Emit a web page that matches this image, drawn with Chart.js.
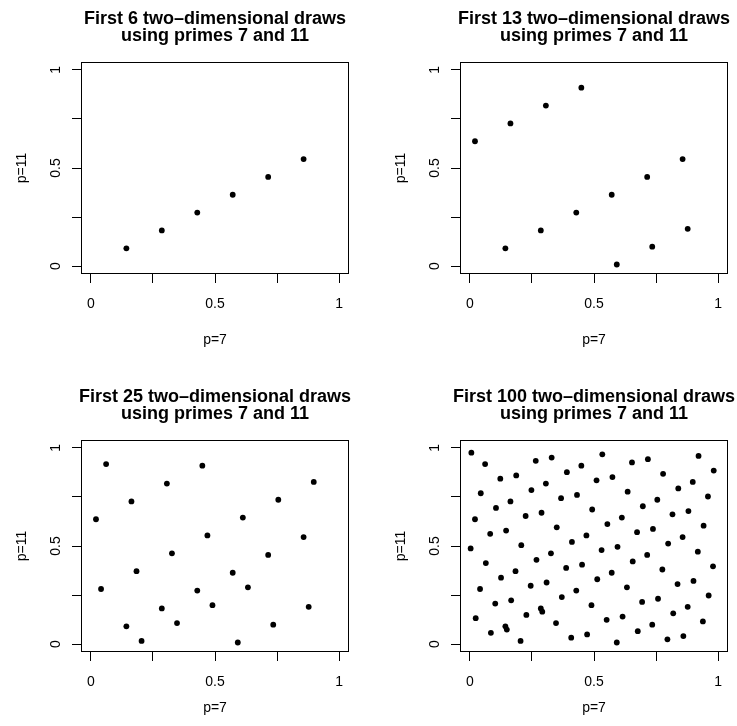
<!DOCTYPE html>
<html><head><meta charset="utf-8">
<script src="https://cdn.jsdelivr.net/npm/chart.js@4/dist/chart.umd.min.js"></script>
<style>
html,body{margin:0;padding:0;background:#fff;overflow:hidden;width:737px;height:726px;}
#wrap{position:relative;width:737px;height:726px;overflow:hidden;background:#fff;}
canvas{position:absolute;}
</style></head><body><div id="wrap"></div>
<script>
// Draws (p=7 coordinate and p=11 coordinate)
const drawsP7 = [
0.1429,0.2857,0.4286,0.5714,0.7143,0.8571,
0.0204,0.1633,0.3061,0.4490,0.5918,0.7347,0.8776,
0.0408,0.1837,0.3265,0.4694,0.6122,0.7551,0.8980,
0.0612,0.2041,0.3469,0.4898,0.6327,0.7755,0.9184,
0.0816,0.2245,0.3673,0.5102,0.6531,0.7959,0.9388,
0.1020,0.2449,0.3878,0.5306,0.6735,0.8163,0.9592,
0.1224,0.2653,0.4082,0.5510,0.6939,0.8367,0.9796,
0.0029,0.1458,0.2886,0.4315,0.5743,0.7172,0.8601,
0.0233,0.1662,0.3090,0.4519,0.5948,0.7376,0.8805,
0.0437,0.1866,0.3294,0.4723,0.6152,0.7580,0.9009,
0.0641,0.2070,0.3499,0.4927,0.6356,0.7784,0.9213,
0.0845,0.2274,0.3703,0.5131,0.6560,0.7988,0.9417,
0.1050,0.2478,0.3907,0.5335,0.6764,0.8192,0.9621,
0.1254,0.2682,0.4111,0.5539,0.6968,0.8397,0.9825,
0.0058,0.1487,0.2915
];
const drawsP11 = [
0.0909,0.1818,0.2727,0.3636,0.4545,0.5455,0.6364,0.7273,0.8182,0.9091,
0.0083,0.0992,0.1901,0.2810,0.3719,0.4628,0.5537,0.6446,0.7355,0.8264,0.9174,
0.0165,0.1074,0.1983,0.2893,0.3802,0.4711,0.5620,0.6529,0.7438,0.8347,0.9256,
0.0248,0.1157,0.2066,0.2975,0.3884,0.4793,0.5702,0.6612,0.7521,0.8430,0.9339,
0.0331,0.1240,0.2149,0.3058,0.3967,0.4876,0.5785,0.6694,0.7603,0.8512,0.9421,
0.0413,0.1322,0.2231,0.3140,0.4050,0.4959,0.5868,0.6777,0.7686,0.8595,0.9504,
0.0496,0.1405,0.2314,0.3223,0.4132,0.5041,0.5950,0.6860,0.7769,0.8678,0.9587,
0.0579,0.1488,0.2397,0.3306,0.4215,0.5124,0.6033,0.6942,0.7851,0.8760,0.9669,
0.0661,0.1570,0.2479,0.3388,0.4298,0.5207,0.6116,0.7025,0.7934,0.8843,0.9752,
0.0744,0.1653
];
const drawCounts = [6, 13, 25, 100];
const tickValues = [0, 0.25, 0.5, 0.75, 1];
const tickLabels = ['0', '', '0.5', '', '1'];
const xAxisTitle = 'p=7';
const yAxisTitle = 'p=11';
const titleLine2 = 'using primes 7 and 11';

// layout (positions only)
const panelPos = [
  {left: 0,   top: 0,   xtPad: 16},
  {left: 379, top: 0,   xtPad: 16},
  {left: 0,   top: 378, xtPad: 26},
  {left: 379, top: 378, xtPad: 26}
];
const W = 430, H = 363;
const FONT = "'Liberation Sans', Arial, Helvetica, sans-serif";

const boxPlugin = {
  id: 'rbox',
  afterDraw(chart) {
    const {ctx, chartArea: a} = chart;
    ctx.save();
    ctx.strokeStyle = '#000';
    ctx.lineWidth = 1;
    ctx.strokeRect(Math.round(a.left) + 0.5, Math.round(a.top) + 0.5,
                   Math.round(a.right - a.left) - 1, Math.round(a.bottom - a.top) - 1);
    // y tick labels, rotated like R's default
    const ys = chart.scales.y;
    ctx.fillStyle = '#000';
    ctx.font = '14px ' + FONT;
    ctx.textAlign = 'center';
    ctx.textBaseline = 'middle';
    tickValues.forEach((v, i) => {
      if (!tickLabels[i]) return;
      const py = ys.getPixelForValue(v);
      ctx.save();
      ctx.translate(a.left - 25, py);
      ctx.rotate(-Math.PI / 2);
      ctx.fillText(tickLabels[i], 0, 0);
      ctx.restore();
    });
    ctx.restore();
  }
};

const wrap = document.getElementById('wrap');
drawCounts.forEach((n, k) => {
  const pos = panelPos[k];
  const cv = document.createElement('canvas');
  cv.width = W; cv.height = H;
  cv.style.left = pos.left + 'px';
  cv.style.top = pos.top + 'px';
  cv.style.width = W + 'px';
  cv.style.height = H + 'px';
  wrap.appendChild(cv);
  const pts = drawsP7.slice(0, n).map((x, i) => ({x: x, y: drawsP11[i]}));
  const tickSetter = s => { s.ticks = tickValues.map(v => ({value: v})); };
  new Chart(cv, {
    type: 'scatter',
    data: {datasets: [{data: pts, backgroundColor: '#000', borderWidth: 0, pointRadius: 2.9, pointHoverRadius: 2.9}]},
    options: {
      responsive: false, animation: false, devicePixelRatio: 1,
      layout: {padding: 0},
      plugins: {
        legend: {display: false}, tooltip: {enabled: false},
        title: {
          display: true,
          text: ['First ' + n + ' two\u2013dimensional draws', titleLine2],
          color: '#000',
          font: {family: FONT, size: 18, weight: 'bold', lineHeight: '17px'},
          padding: {top: 10.5, bottom: 17.5}
        }
      },
      scales: {
        x: {
          type: 'linear', position: 'bottom', min: -0.04, max: 1.04,
          afterBuildTicks: tickSetter,
          afterFit: s => { s.height = H - 274; },
          grid: {display: true, drawOnChartArea: false, drawTicks: true, tickLength: 9, color: '#000', lineWidth: 1},
          border: {display: false},
          ticks: {autoSkip: false, maxRotation: 0, minRotation: 0, padding: 13, color: '#000',
                  font: {family: FONT, size: 14},
                  callback: v => tickLabels[tickValues.indexOf(v)]},
          title: {display: true, text: xAxisTitle, color: '#000', font: {family: FONT, size: 14, lineHeight: 1},
                  padding: {top: 0, bottom: pos.xtPad}}
        },
        y: {
          type: 'linear', position: 'left', min: -0.04, max: 1.04,
          afterBuildTicks: tickSetter,
          afterFit: s => { s.width = 81; },
          grid: {display: true, drawOnChartArea: false, drawTicks: true, tickLength: 9, color: '#000', lineWidth: 1},
          border: {display: false},
          ticks: {display: false},
          title: {display: true, text: yAxisTitle, color: '#000', font: {family: FONT, size: 14, lineHeight: 1},
                  padding: {top: 15, bottom: 0}}
        },
        rs: {
          type: 'linear', position: 'right', display: true,
          afterFit: s => { s.width = 81; },
          grid: {display: false}, border: {display: false}, ticks: {display: false}
        }
      }
    },
    plugins: [boxPlugin]
  });
});
</script>
</body></html>
